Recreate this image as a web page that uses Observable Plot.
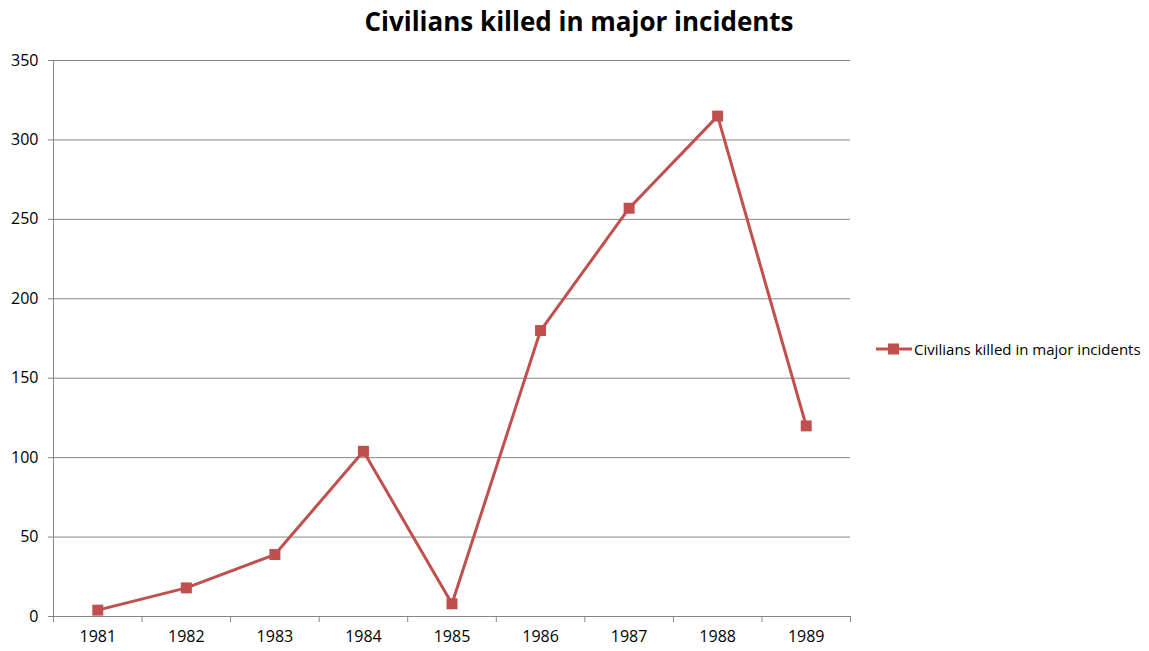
<!DOCTYPE html>
<html>
<head>
<meta charset="utf-8">
<script src="https://cdn.jsdelivr.net/npm/d3@7"></script>
<script src="https://cdn.jsdelivr.net/npm/@observablehq/plot@0.6"></script>
<style>
  html, body { margin: 0; padding: 0; background: #fff; }
  #wrap { position: relative; width: 1149px; height: 651px; overflow: hidden; font-family: "Open Sans", sans-serif; }
  #title { position: absolute; left: 0; top: 0; width: 1158px; height: 45px; text-align: center;
           font-family: "Open Sans", sans-serif; font-weight: bold; font-size: 26px; line-height: 42px; color: #000; }
  #chart { position: absolute; left: 0; top: 45px; }
  #legend { position: absolute; left: 876px; top: 339px; display: flex; align-items: center;
            font-family: "Open Sans", sans-serif; font-size: 15px; color: #000; }
</style>
</head>
<body>
<div id="wrap">
  <div id="title">Civilians killed in major incidents</div>
  <div id="chart"></div>
  <div id="legend">
    <svg width="38" height="14"><line x1="0" y1="7" x2="36" y2="7" stroke="#C0504D" stroke-width="3"/><rect x="12" y="1.5" width="11" height="11" fill="#C0504D"/></svg>
    <span>Civilians killed in major incidents</span>
  </div>
</div>
<script>
const years = [1981, 1982, 1983, 1984, 1985, 1986, 1987, 1988, 1989];
const killed = [4, 18, 39, 104, 8, 180, 257, 315, 120];
const yTicks = [0, 50, 100, 150, 200, 250, 300, 350];
const seriesName = "Civilians killed in major incidents";

const data = years.map((y, i) => ({year: y, value: killed[i]}));
const boundaries = [years[0] - 0.5, ...years.map(y => y + 0.5)];
const lineColor = "#C0504D";
const gridColor = "#868686";

const chart = Plot.plot({
  width: 1149,
  height: 606,
  marginLeft: 53,
  marginRight: 299,
  marginTop: 15,
  marginBottom: 35,
  style: {fontFamily: "Open Sans, sans-serif", fontSize: "16px", color: "#000", background: "transparent"},
  x: {type: "linear", domain: [years[0] - 0.5, years[years.length - 1] + 0.5]},
  y: {domain: [0, 350]},
  marks: [
    Plot.ruleY(yTicks, {y: d => d, stroke: gridColor, strokeWidth: 1, insetLeft: -5}),
    Plot.ruleX([boundaries[0]], {x: d => d, y1: 0, y2: 350, stroke: gridColor, strokeWidth: 1}),
    Plot.ruleX(boundaries, {x: d => d, y1: 0, y2: 0, insetBottom: -6, stroke: gridColor, strokeWidth: 1}),
    Plot.axisY({ticks: yTicks, tickSize: 0, tickPadding: 15, label: null, fill: "#000", fontSize: 16}),
    Plot.axisX({ticks: years, tickSize: 0, tickPadding: 14, tickFormat: d => String(d), label: null, fill: "#000", fontSize: 16}),
    Plot.line(data, {x: "year", y: "value", stroke: lineColor, strokeWidth: 3}),
    Plot.dot(data, {x: "year", y: "value", symbol: "square", r: 6.2, fill: lineColor, stroke: "none"})
  ]
});
document.getElementById("chart").appendChild(chart);
</script>
</body>
</html>
